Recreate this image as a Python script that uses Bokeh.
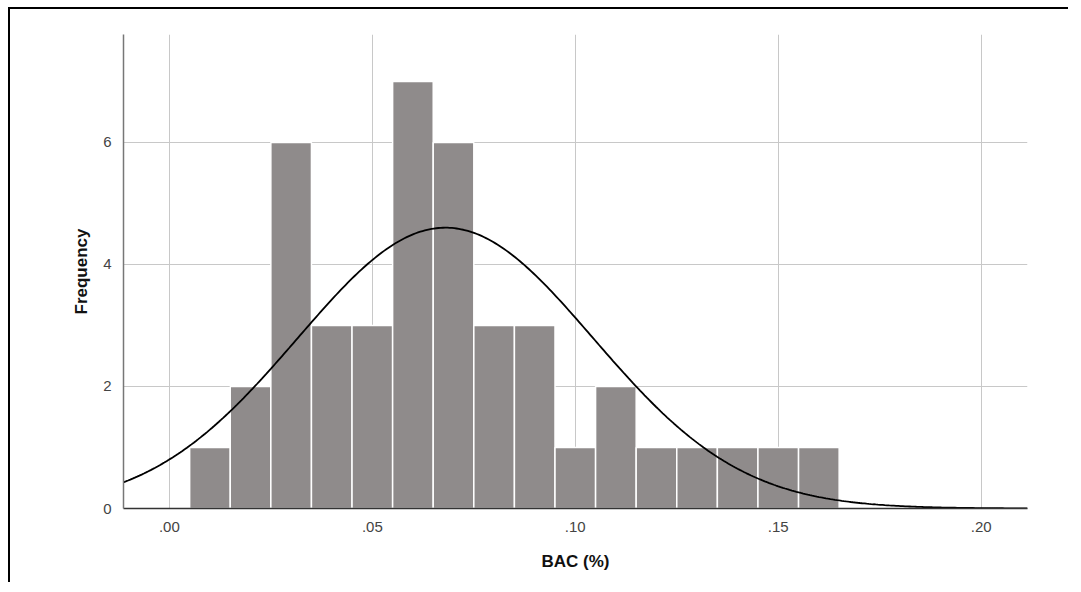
import numpy as np
from bokeh.plotting import figure
from bokeh.models import Range1d, FixedTicker
from bokeh.embed import file_html
from bokeh.resources import INLINE

# Histogram data (bin centres in BAC %, counts)
bin_centers = [0.01, 0.02, 0.03, 0.04, 0.05, 0.06, 0.07, 0.08,
               0.09, 0.10, 0.11, 0.12, 0.13, 0.14, 0.15, 0.16]
counts = [1, 2, 6, 3, 3, 7, 6, 3, 3, 1, 2, 1, 1, 1, 1, 1]
bin_width = 0.01

# Fitted normal curve parameters
curve_mean = 0.068
curve_sd = 0.0364
n_total = 42

x_ticks = [0.0, 0.05, 0.10, 0.15, 0.20]
x_tick_labels = [".00", ".05", ".10", ".15", ".20"]
y_ticks = [0, 2, 4, 6]

FONT = "Liberation Sans"

p = figure(width=1060, height=575, output_backend="svg", toolbar_location=None,
           x_range=Range1d(-0.0113, 0.2114), y_range=Range1d(0, 7.77),
           min_border_left=113, min_border_top=25, min_border_right=43,
           min_border_bottom=76)
p.styles = {"border-left": "2px solid black", "border-top": "2px solid black",
            "margin-left": "8px", "margin-top": "7px"}
p.outline_line_color = None
p.background_fill_color = "white"
p.border_fill_color = "white"

p.vbar(x=bin_centers, top=counts, width=bin_width, bottom=0,
       fill_color="#8f8b8b", line_color="white", line_width=1.5)

xs = np.linspace(-0.0113, 0.2114, 400)
ys = n_total * bin_width / (curve_sd * np.sqrt(2 * np.pi)) * np.exp(-0.5 * ((xs - curve_mean) / curve_sd) ** 2)
p.line(xs, ys, line_color="black", line_width=1.8)

# axes
p.xaxis.ticker = FixedTicker(ticks=x_ticks)
p.xaxis.major_label_overrides = dict(zip(x_ticks, x_tick_labels))
p.yaxis.ticker = FixedTicker(ticks=y_ticks)
for ax in (p.xaxis, p.yaxis):
    ax.major_tick_line_color = None
    ax.minor_tick_line_color = None
    ax.major_label_text_font = FONT
    ax.major_label_text_font_size = "15px"
    ax.major_label_text_color = "#444444"
    ax.axis_label_text_font = FONT
    ax.axis_label_text_font_style = "bold"
    ax.axis_label_text_font_size = "17px"
    ax.axis_label_text_color = "#111111"
p.xaxis.axis_line_color = "#333333"
p.xaxis.axis_line_width = 1.5
p.yaxis.axis_line_color = "#777777"
p.yaxis.axis_line_width = 1.5
p.xaxis.major_label_standoff = 7
p.yaxis.major_label_standoff = 6
p.xaxis.axis_label = "BAC (%)"
p.yaxis.axis_label = "Frequency"
p.xaxis.axis_label_standoff = 17
p.yaxis.axis_label_standoff = 9

p.xgrid.ticker = FixedTicker(ticks=x_ticks)
p.ygrid.ticker = FixedTicker(ticks=y_ticks)
p.grid.grid_line_color = "#c8c8c8"
p.grid.grid_line_width = 1

open("out.html", "w").write(file_html(p, INLINE))
